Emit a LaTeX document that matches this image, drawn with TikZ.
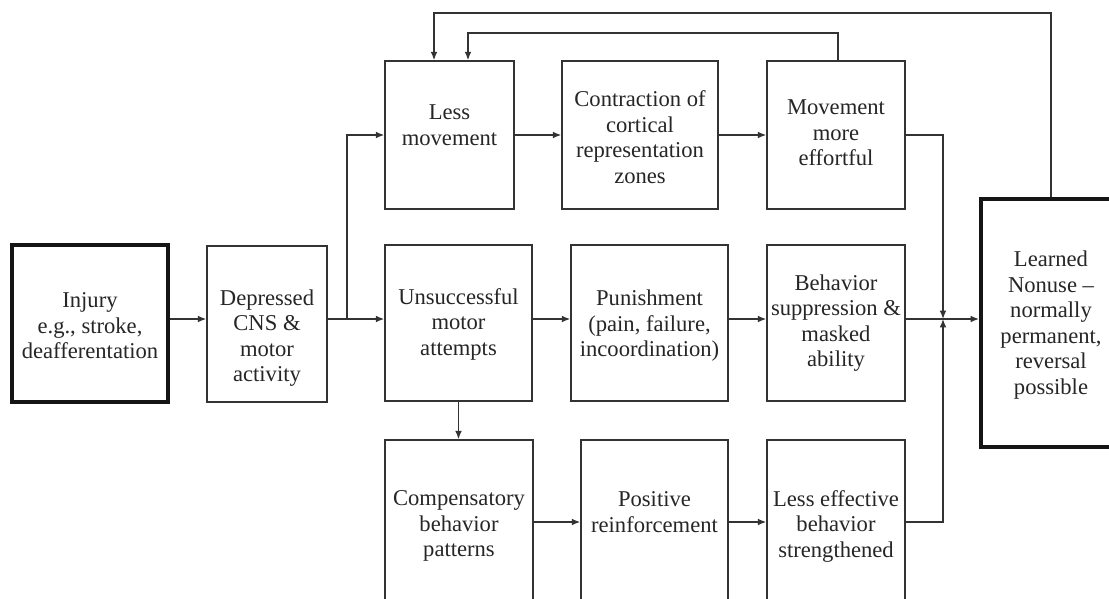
\documentclass[tikz,border=0pt]{standalone}
\usepackage{fontspec}
\setmainfont{Liberation Serif}
\usetikzlibrary{arrows.meta}
\definecolor{linec}{HTML}{333333}
\definecolor{textc}{HTML}{262626}
\definecolor{thickc}{HTML}{151515}
\begin{document}
\begin{tikzpicture}[x=0.5pt,y=-0.5pt,
  box/.style={draw=linec, line width=0.75pt, inner sep=0pt, fill=white},
  thickbox/.style={draw=thickc, line width=2pt, inner sep=0pt, fill=white},
  txt/.style={align=center, font=\fontsize{11.3}{12.75}\selectfont, text=textc, inner sep=0pt},
  ln/.style={draw=linec, line width=0.7pt},
  arr/.style={draw=linec, line width=0.7pt, -{Latex[length=4.2pt,width=3.4pt]}}]
\useasboundingbox (0,0) rectangle (1109,599);
\clip (0,0) rectangle (1109,599);
\fill[white] (0,0) rectangle (1109,599);

% boxes
\node[thickbox, minimum width=78pt, minimum height=78.5pt] (inj) at (90,323.5) {};
\node[box, minimum width=60pt, minimum height=78pt] (dep) at (267,324) {};
\node[box, minimum width=64.5pt, minimum height=74pt] (lm) at (449.5,135) {};
\node[box, minimum width=78pt, minimum height=74pt] (con) at (640,135) {};
\node[box, minimum width=69pt, minimum height=74pt] (mov) at (836,135) {};
\node[box, minimum width=73.5pt, minimum height=78pt] (uns) at (458.5,323) {};
\node[box, minimum width=78.5pt, minimum height=78pt] (pun) at (649.5,323) {};
\node[box, minimum width=69pt, minimum height=78pt] (beh) at (836,323) {};
\node[box, minimum width=74pt, minimum height=86pt] (com) at (459,526) {};
\node[box, minimum width=73.5pt, minimum height=86pt] (pos) at (654.5,526) {};
\node[box, minimum width=69pt, minimum height=86pt] (lef) at (836,526) {};
\node[thickbox, minimum width=70pt, minimum height=124pt] (lrn) at (1051,323) {};

% texts
\node[txt] (injt) at (90,326) {Injury\\e.g., stroke,\\deafferentation};
\node[txt] (dept) at (267,338) {Depressed\\CNS \&\\motor\\activity};
\node[txt] (lmt) at (449.5,125) {Less\\movement};
\node[txt] (cont) at (640,137) {Contraction of\\cortical\\representation\\zones};
\node[txt] (movt) at (836,133) {Movement\\more\\effortful};
\node[txt] (unst) at (458.5,324) {Unsuccessful\\motor\\attempts};
\node[txt] (punt) at (649.5,326) {Punishment\\(pain, failure,\\incoordination)};
\node[txt] (beht) at (836,323) {Behavior\\suppression \&\\masked\\ability};
\node[txt] (comt) at (459,526) {Compensatory\\behavior\\patterns};
\node[txt] (post) at (654.5,512) {Positive\\reinforcement};
\node[txt] (left) at (836,526) {Less effective\\behavior\\strengthened};
\node[txt] (lrnt) at (1051,325) {Learned\\Nonuse --\\normally\\permanent,\\reversal\\possible};

% junctions
\coordinate (jA) at (347,319);
\coordinate (jB) at (943,319);
\coordinate (bot) at (0,522);
\coordinate (f1) at (838,33);
\coordinate (f2) at (434,13);
\coordinate (a1) at (434,0);
\coordinate (a2) at (468,0);

% connectors
\draw[arr] (inj.east |- jA) -- (dep.west |- jA);
\draw[ln] (dep.east |- jA) -- (jA);
\draw[arr] (jA) -- (uns.west |- jA);
\draw[arr] (jA) |- (lm.west);
\draw[arr] (lm.east) -- (con.west);
\draw[arr] (con.east) -- (mov.west);
\draw[arr] (mov.east) -| (jB);
\draw[arr] (uns.east |- jA) -- (pun.west |- jA);
\draw[arr] (pun.east |- jA) -- (beh.west |- jA);
\draw[ln] (beh.east |- jA) -- (jB);
\draw[arr] (jB) -- (lrn.west |- jB);
\draw[arr] (uns.south) -- (uns.south |- com.north);
\draw[arr] (com.east |- bot) -- (pos.west |- bot);
\draw[arr] (pos.east |- bot) -- (lef.west |- bot);
\draw[arr] (lef.east |- bot) -| (jB);
\draw[arr] (mov.north -| f1) -- (f1) -| (lm.north -| a2);
\draw[arr] (lrn.north) -- (lrn.north |- f2) -| (lm.north -| a1);
\end{tikzpicture}
\end{document}
